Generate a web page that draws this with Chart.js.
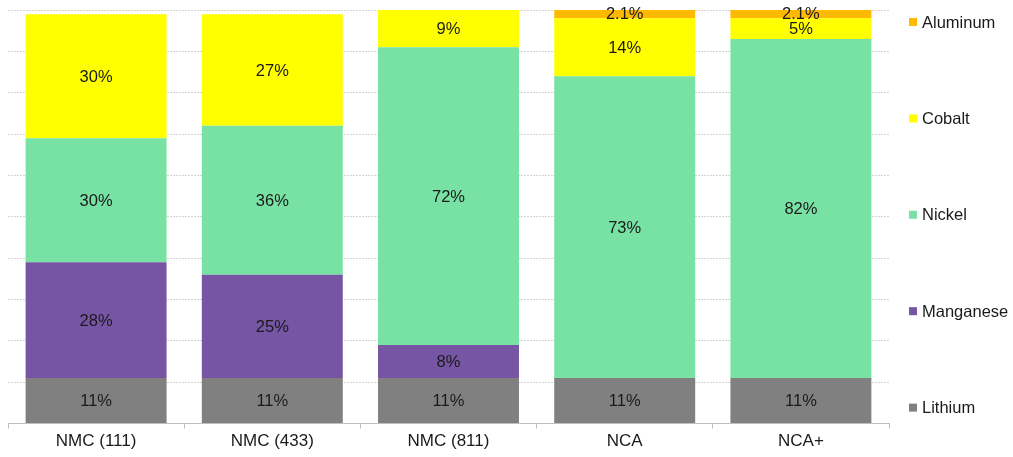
<!DOCTYPE html>
<html>
<head>
<meta charset="utf-8">
<script src="https://cdn.jsdelivr.net/npm/chart.js@4.4.1/dist/chart.umd.min.js"></script>
<style>
    html, body { margin: 0; padding: 0; background: #fff; }
    #wrap { width: 1013px; height: 457px; position: relative; }
</style>
</head>
<body>
<div id="wrap"><canvas id="metalChart"></canvas></div>
<script>
// cathode chemistries and metal share per chemistry (%)
const chemistries = ['NMC (111)', 'NMC (433)', 'NMC (811)', 'NCA', 'NCA+'];
const lithium   = [11, 11, 11, 11, 11];
const manganese = [28, 25, 8, 0, 0];
const nickel    = [30, 36, 72, 73, 82];
const cobalt    = [30, 27, 9, 14, 5];
const aluminum  = [0, 0, 0, 2.1, 2.1];

const FONT = '"Liberation Sans", Arial, sans-serif';

// value labels centred in each stacked segment
const segmentLabels = {
    id: 'segmentLabels',
    afterDatasetsDraw(chart) {
        const ctx = chart.ctx;
        ctx.save();
        ctx.font = '16.5px ' + FONT;
        ctx.fillStyle = '#1a1a1a';
        ctx.textAlign = 'center';
        ctx.textBaseline = 'middle';
        chart.data.datasets.forEach(function(ds, i) {
            const meta = chart.getDatasetMeta(i);
            meta.data.forEach(function(bar, j) {
                const v = ds.data[j];
                if (!v) return;
                ctx.fillText(v + '%', bar.x, (bar.y + bar.base) / 2 + 1);
            });
        });
        ctx.restore();
    }
};

// legend on the right, spread down the full plot height, top series first
const sideLegend = {
    id: 'sideLegend',
    afterDraw(chart) {
        const ctx = chart.ctx;
        const area = chart.chartArea;
        const items = chart.data.datasets.slice().reverse();
        const step = (area.bottom - area.top - 28) / (items.length - 1);
        ctx.save();
        ctx.font = '16.5px ' + FONT;
        ctx.textBaseline = 'middle';
        ctx.textAlign = 'left';
        items.forEach(function(ds, i) {
            const y = area.top + 12 + i * step;
            ctx.fillStyle = ds.backgroundColor;
            ctx.fillRect(909, y - 4, 8, 8);
            ctx.fillStyle = '#1a1a1a';
            ctx.fillText(ds.label, 922, y + 1);
        });
        ctx.restore();
    }
};

new Chart(document.getElementById('metalChart'), {
    type: 'bar',
    data: {
        labels: chemistries,
        datasets: [
            { label: 'Lithium',   data: lithium,   backgroundColor: '#808080' },
            { label: 'Manganese', data: manganese, backgroundColor: '#7655a5' },
            { label: 'Nickel',    data: nickel,    backgroundColor: '#77e2a4' },
            { label: 'Cobalt',    data: cobalt,    backgroundColor: '#ffff00' },
            { label: 'Aluminum',  data: aluminum,  backgroundColor: '#ffb900' }
        ]
    },
    options: {
        responsive: true,
        maintainAspectRatio: false,
        animation: false,
        layout: {
            padding: { left: 8, right: 124, top: 10, bottom: 2 }
        },
        datasets: {
            bar: { categoryPercentage: 1, barPercentage: 0.8, borderWidth: 0 }
        },
        plugins: {
            legend: { display: false },
            tooltip: { enabled: false }
        },
        scales: {
            x: {
                stacked: true,
                grid: {
                    display: true,
                    drawOnChartArea: false,
                    drawTicks: true,
                    tickLength: 5,
                    color: '#bfbfbf'
                },
                border: { color: '#bfbfbf' },
                ticks: {
                    color: '#1a1a1a',
                    font: { family: FONT, size: 17 },
                    padding: 3
                }
            },
            y: {
                stacked: true,
                min: 0,
                max: 100,
                ticks: { display: false, stepSize: 10 },
                grid: { color: '#d4d4d4', drawTicks: false },
                border: { display: false, dash: [2, 1] }
            }
        }
    },
    plugins: [segmentLabels, sideLegend]
});
</script>
</body>
</html>
